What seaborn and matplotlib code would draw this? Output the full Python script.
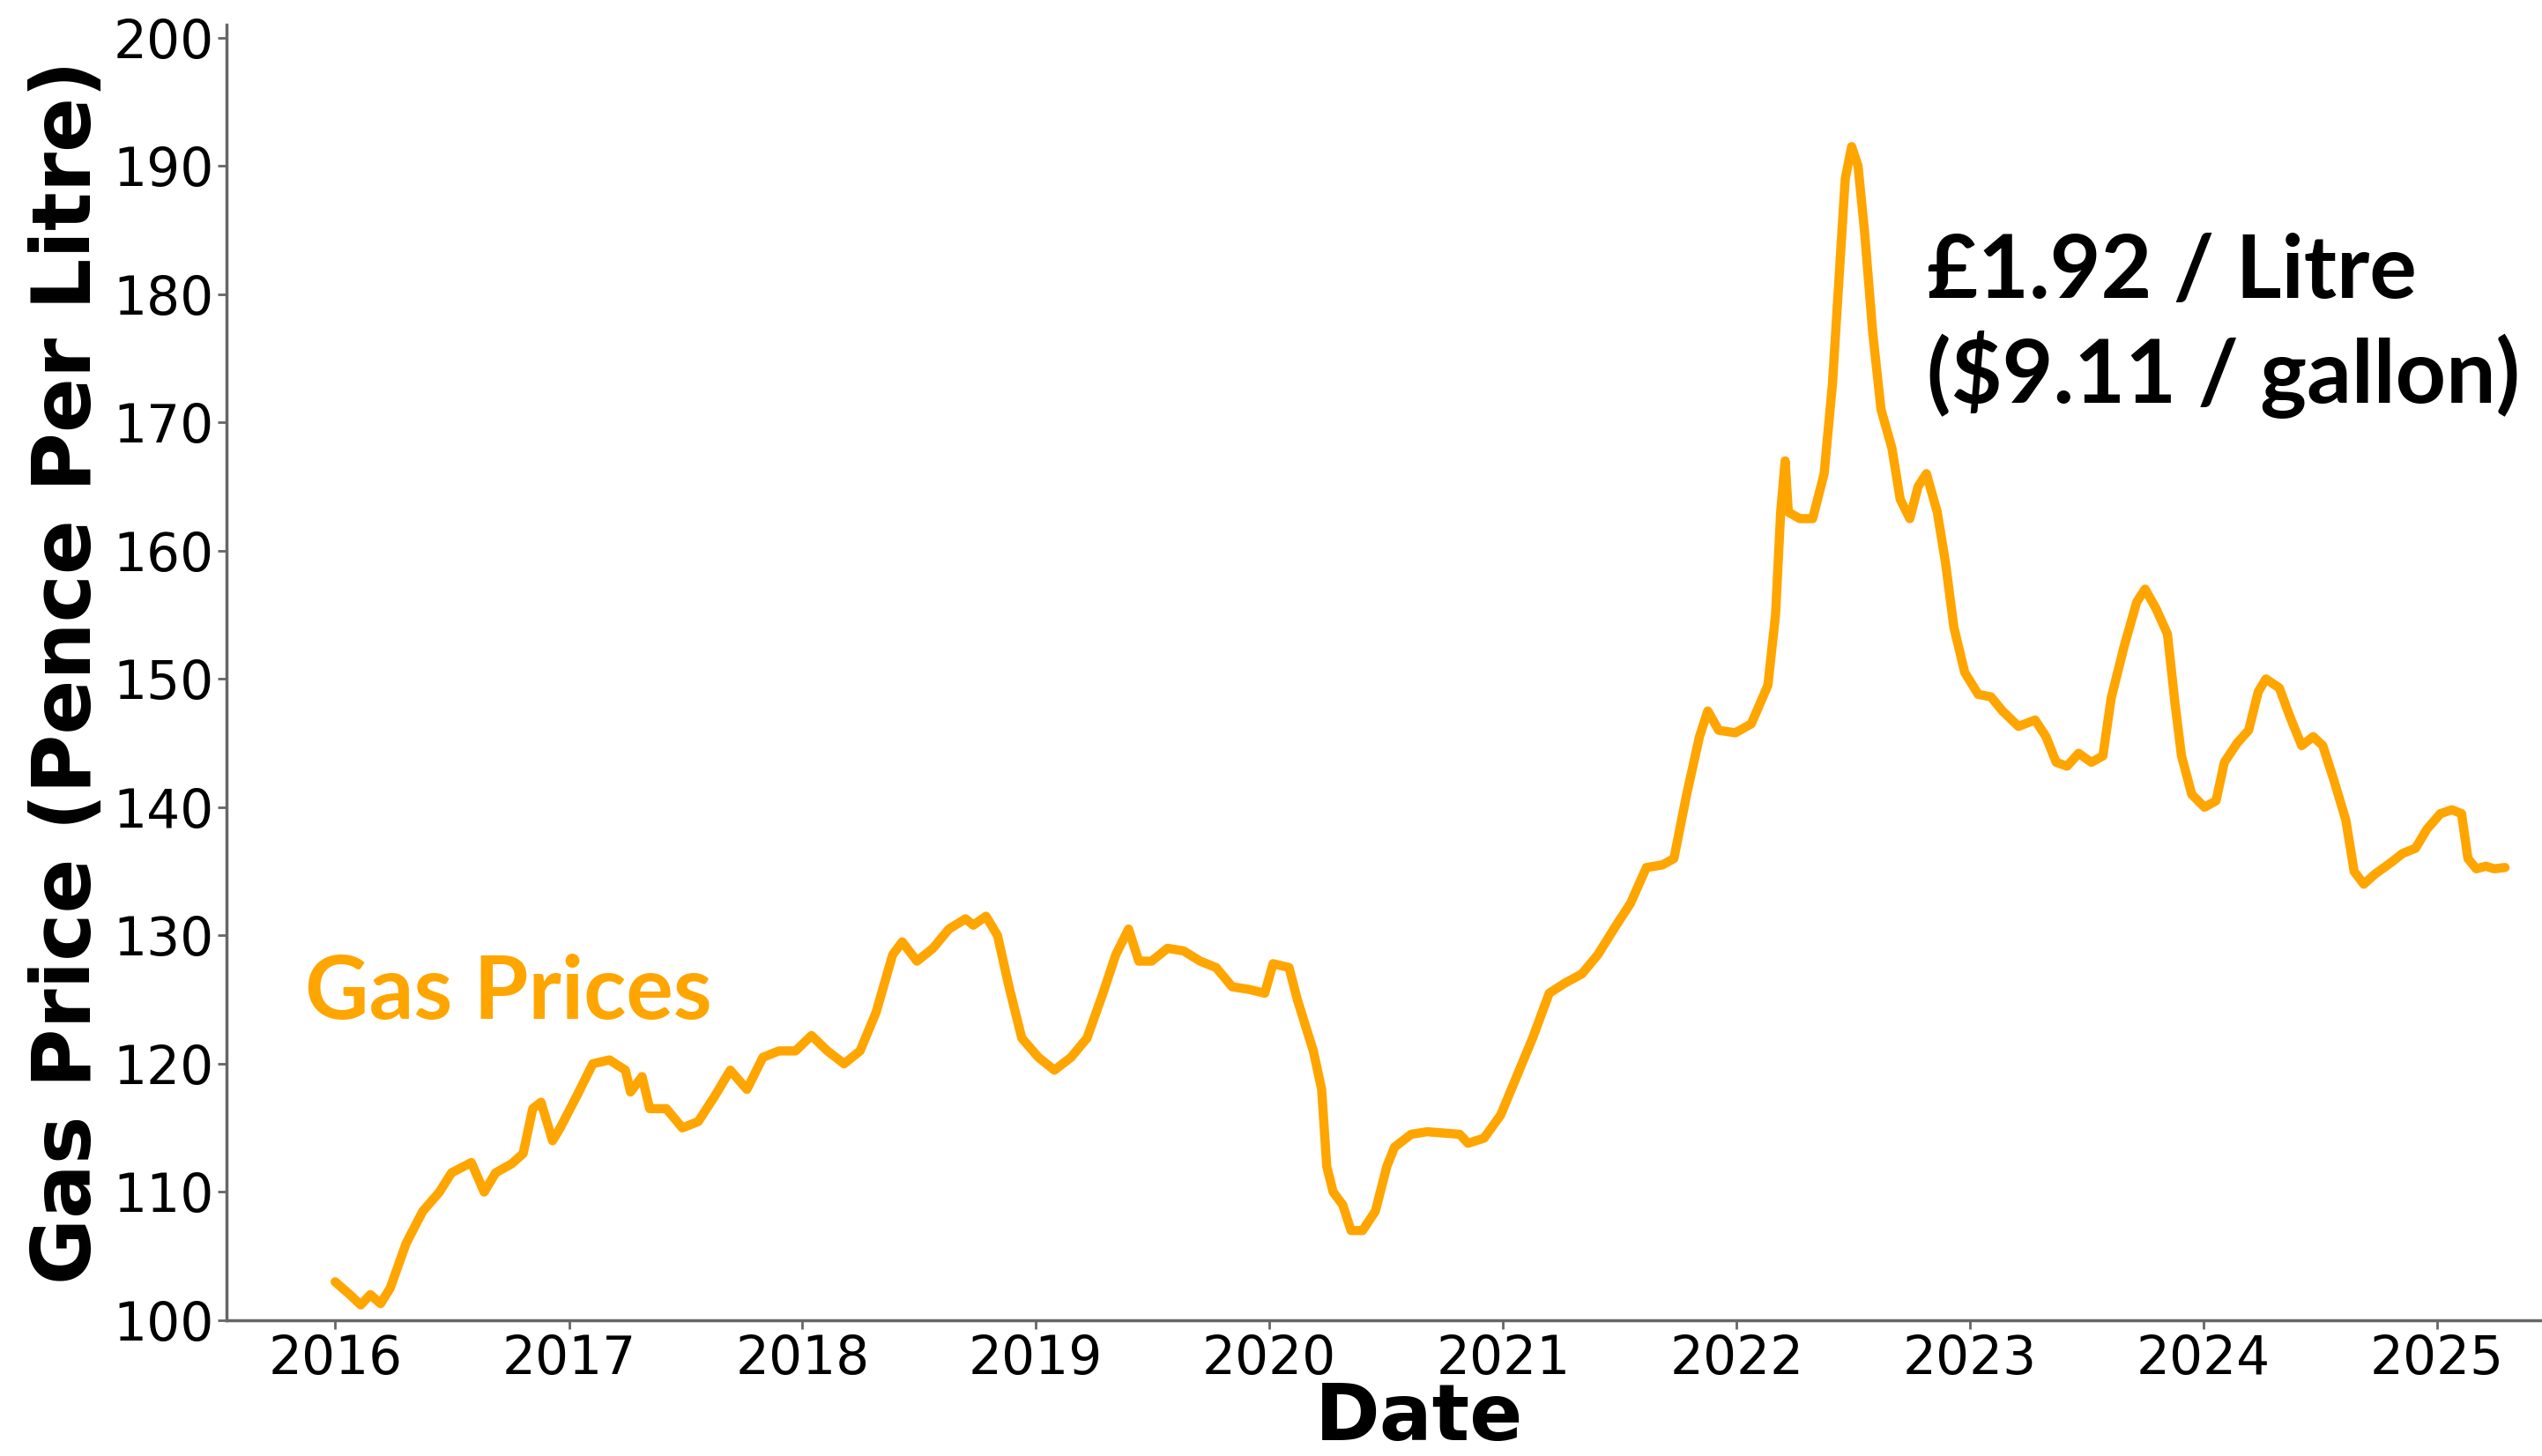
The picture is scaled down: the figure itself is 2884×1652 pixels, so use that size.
import numpy as np
import pandas as pd
import matplotlib
matplotlib.use("Agg")
import matplotlib.pyplot as plt
import matplotlib.dates as mdates
import seaborn as sns

# Weekly-ish UK petrol prices (pence per litre)
dates = [
    "2016-01-01", "2016-01-24", "2016-02-10", "2016-02-25", "2016-03-12", "2016-03-27",
    "2016-04-21", "2016-05-17", "2016-06-12", "2016-07-01", "2016-08-01", "2016-08-21",
    "2016-09-08", "2016-10-03", "2016-10-21", "2016-11-05", "2016-11-18", "2016-12-06",
    "2016-12-18", "2017-01-13", "2017-02-07", "2017-03-05", "2017-03-30", "2017-04-07",
    "2017-04-25", "2017-05-07", "2017-06-02", "2017-06-27", "2017-07-22", "2017-08-17",
    "2017-09-10", "2017-10-06", "2017-10-31", "2017-11-25", "2017-12-21", "2018-01-15",
    "2018-02-09", "2018-03-07", "2018-04-01", "2018-04-26", "2018-05-22", "2018-06-06",
    "2018-06-29", "2018-07-24", "2018-08-18", "2018-09-13", "2018-09-25", "2018-10-15",
    "2018-11-02", "2018-11-20", "2018-12-10", "2019-01-05", "2019-01-30", "2019-02-25",
    "2019-03-22", "2019-04-16", "2019-05-06", "2019-05-26", "2019-06-11", "2019-07-01",
    "2019-07-26", "2019-08-20", "2019-09-15", "2019-10-10", "2019-11-04", "2019-11-30",
    "2019-12-25", "2020-01-07", "2020-02-01", "2020-02-14", "2020-03-10", "2020-03-23",
    "2020-03-31", "2020-04-10", "2020-04-25", "2020-05-08", "2020-05-26", "2020-06-15",
    "2020-07-03", "2020-07-15", "2020-08-10", "2020-09-04", "2020-09-30", "2020-10-25",
    "2020-11-07", "2020-12-02", "2020-12-28", "2021-01-22", "2021-02-16", "2021-03-14",
    "2021-04-08", "2021-05-04", "2021-05-29", "2021-06-23", "2021-07-19", "2021-08-13",
    "2021-09-07", "2021-09-25", "2021-10-15", "2021-11-04", "2021-11-17", "2021-12-04",
    "2021-12-30", "2022-01-24", "2022-02-19", "2022-03-03", "2022-03-11", "2022-03-18",
    "2022-03-23", "2022-04-10", "2022-04-30", "2022-05-18", "2022-05-31", "2022-06-10",
    "2022-06-20", "2022-06-30", "2022-07-10", "2022-07-20", "2022-08-02", "2022-08-15",
    "2022-09-01", "2022-09-14", "2022-09-29", "2022-10-12", "2022-10-25", "2022-11-11",
    "2022-11-24", "2022-12-07", "2022-12-24", "2023-01-14", "2023-02-03", "2023-02-21",
    "2023-03-18", "2023-04-13", "2023-04-30", "2023-05-16", "2023-06-02", "2023-06-20",
    "2023-07-10", "2023-07-28", "2023-08-10", "2023-08-30", "2023-09-19", "2023-10-02",
    "2023-10-19", "2023-11-06", "2023-11-18", "2023-11-28", "2023-12-14", "2024-01-03",
    "2024-01-21", "2024-02-03", "2024-02-23", "2024-03-12", "2024-03-27", "2024-04-08",
    "2024-04-29", "2024-05-16", "2024-06-03", "2024-06-21", "2024-07-06", "2024-07-24",
    "2024-08-11", "2024-08-24", "2024-09-08", "2024-09-26", "2024-10-21", "2024-11-08",
    "2024-11-28", "2024-12-16", "2025-01-06", "2025-01-24", "2025-02-08", "2025-02-18",
    "2025-03-03", "2025-03-18", "2025-03-31", "2025-04-17",
]
prices = [
    103.0, 102.0, 101.2, 102.0, 101.3, 102.5,
    106.0, 108.5, 110.0, 111.5, 112.3, 110.0,
    111.5, 112.2, 113.0, 116.5, 117.0, 114.0,
    115.0, 117.5, 120.0, 120.3, 119.5, 117.8,
    119.0, 116.5, 116.5, 115.0, 115.5, 117.5,
    119.5, 118.0, 120.5, 121.0, 121.0, 122.2,
    121.0, 120.0, 121.0, 124.0, 128.5, 129.5,
    128.0, 129.0, 130.5, 131.3, 130.8, 131.5,
    130.0, 126.0, 122.0, 120.5, 119.5, 120.5,
    122.0, 125.5, 128.5, 130.5, 128.0, 128.0,
    129.0, 128.8, 128.0, 127.5, 126.0, 125.8,
    125.5, 127.8, 127.5, 125.0, 121.0, 118.0,
    112.0, 110.0, 109.0, 107.0, 107.0, 108.5,
    112.0, 113.5, 114.5, 114.7, 114.6, 114.5,
    113.8, 114.2, 116.0, 119.0, 122.0, 125.5,
    126.3, 127.0, 128.5, 130.5, 132.5, 135.3,
    135.5, 136.0, 141.0, 145.5, 147.5, 146.0,
    145.8, 146.5, 149.5, 155.0, 163.0, 167.0,
    163.0, 162.5, 162.5, 166.0, 173.0, 181.0,
    189.0, 191.5, 190.0, 185.0, 177.0, 171.0,
    168.0, 164.0, 162.5, 165.0, 166.0, 163.0,
    159.0, 154.0, 150.5, 148.8, 148.6, 147.5,
    146.3, 146.8, 145.5, 143.5, 143.2, 144.2,
    143.5, 144.0, 148.5, 152.5, 156.0, 157.0,
    155.5, 153.5, 148.0, 144.0, 141.0, 140.0,
    140.5, 143.5, 145.0, 146.0, 149.0, 150.0,
    149.3, 147.0, 144.8, 145.5, 144.8, 142.0,
    139.0, 135.0, 134.0, 134.8, 135.7, 136.4,
    136.8, 138.3, 139.5, 139.8, 139.5, 136.0,
    135.2, 135.4, 135.2, 135.3,
]

df = pd.DataFrame({"Date": pd.to_datetime(dates), "Price": prices})

sns.set_style("ticks")
plt.rcParams["font.family"] = ["DejaVu Sans"]
plt.rcParams["text.color"] = "black"
plt.rcParams["axes.labelcolor"] = "black"
plt.rcParams["xtick.labelcolor"] = "black"
plt.rcParams["ytick.labelcolor"] = "black"

fig = plt.figure(figsize=(28.84, 16.52), dpi=100)
# the original axes runs past the right edge of the (cropped) picture
ax = fig.add_axes([0.0891, 0.0932, 0.9386, 0.8898])

sns.lineplot(data=df, x="Date", y="Price", color="orange", linewidth=7.5, ax=ax)

ax.set_xlim(pd.Timestamp("2015-07-15"), pd.Timestamp("2025-10-02"))
ax.set_ylim(100, 201)
ax.set_yticks(np.arange(100, 201, 10))
ax.xaxis.set_major_locator(mdates.YearLocator())
ax.xaxis.set_major_formatter(mdates.DateFormatter("%Y"))

ax.set_xlabel("Date", fontsize=64, fontweight="bold", labelpad=-4)
ax.set_ylabel("Gas Price (Pence Per Litre)", fontsize=66, fontweight="bold", labelpad=4)
ax.tick_params(axis="both", labelsize=43, length=7, width=2, color="#666666")

sns.despine(ax=ax)
for side in ["left", "bottom"]:
    ax.spines[side].set_color("#666666")
    ax.spines[side].set_linewidth(2.5)

# annotations
ax.text(pd.Timestamp("2015-11-15"), 123.5, "Gas Prices", color="orange",
        fontsize=72, fontweight="bold", family="Lato", va="baseline")
ax.text(pd.Timestamp("2022-10-26"), 179.7, "£1.92 / Litre", color="black",
        fontsize=72, fontweight="bold", family="Lato", va="baseline")
ax.text(pd.Timestamp("2022-10-26"), 171.5, "($9.11 / gallon)", color="black",
        fontsize=72, fontweight="bold", family="Lato", va="baseline")

fig.savefig("out.png", dpi=100)
